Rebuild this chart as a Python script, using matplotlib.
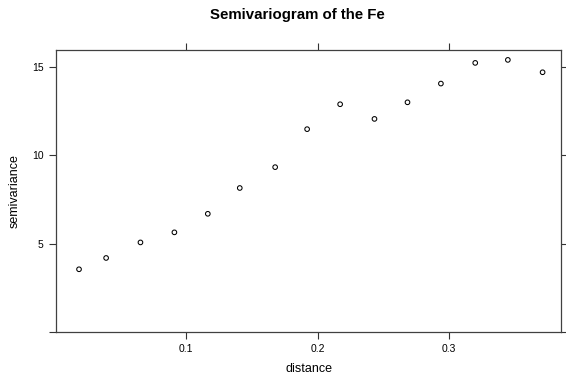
import matplotlib
matplotlib.use('Agg')
import matplotlib.pyplot as plt

plt.rcParams['font.family'] = ['Liberation Sans', 'DejaVu Sans']

# semivariogram estimates
distance = [0.0186, 0.0392, 0.0653, 0.0911, 0.1165, 0.1408, 0.1677, 0.1920,
            0.2171, 0.2432, 0.2683, 0.2937, 0.3198, 0.3446, 0.3710]
semivariance = [3.55, 4.19, 5.07, 5.64, 6.69, 8.15, 9.33, 11.48,
                12.89, 12.06, 13.00, 14.06, 15.23, 15.40, 14.70]
x_ticks = [0.1, 0.2, 0.3]
y_ticks = [0, 5, 10, 15]
y_tick_labels = ['', '5', '10', '15']

fig = plt.figure(figsize=(5.66, 3.79), dpi=100)
ax = fig.add_axes([56 / 566, 1 - 332 / 379, 505 / 566, 282 / 379])

ax.scatter(distance, semivariance, s=11, facecolors='none', edgecolors='black', linewidths=0.75)

ax.set_xlim(0.0011, 0.385)
ax.set_ylim(0, 15.96)
ax.set_xticks(x_ticks)
ax.set_xticklabels(['0.1', '0.2', '0.3'])
ax.set_yticks(y_ticks)
ax.set_yticklabels(y_tick_labels)
ax.tick_params(direction='out', length=5, width=0.8, color='#333333', labelsize=7.5,
               top=True, right=True, labeltop=False, labelright=False, pad=4)
for sp in ax.spines.values():
    sp.set_color('#404040')
    sp.set_linewidth(0.9)

ax.set_xlabel('distance', fontsize=9, labelpad=6)
ax.set_ylabel('semivariance', fontsize=9, labelpad=8)
fig.text(297.5 / 566, 1 - 15 / 379, 'Semivariogram of the Fe', fontsize=10.8,
         fontweight='bold', ha='center', va='center')

fig.savefig('out.png', dpi=100)
